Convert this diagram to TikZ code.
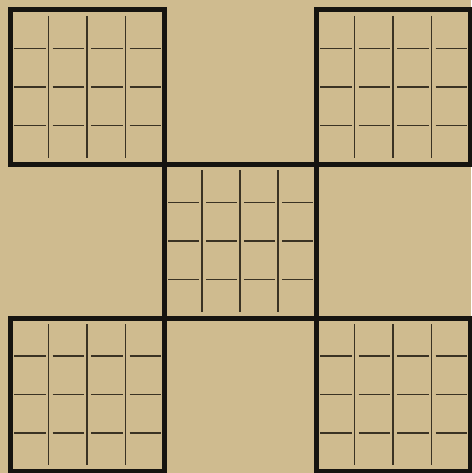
\documentclass[tikz,border=0pt]{standalone}
\usepackage{xcolor}
\usepackage{tikz}
\definecolor{paper}{RGB}{207,187,143}
\definecolor{ink}{RGB}{22,20,16}
\definecolor{pencil}{RGB}{58,50,35}

\begin{document}
\begin{tikzpicture}[x=1pt, y=-1pt,
    frame/.style={ink, line width=5pt, line cap=rect},
    gridv/.style={pencil, line width=1.4pt},
    gridh/.style={pencil, line width=1.8pt}]
  \fill[paper] (0,0) rectangle (471,473);
  \useasboundingbox (0,0) rectangle (471,473);
  % thick frame of the five squares
  \draw[frame] (10,10) -- (164,10) (316,10) -- (470,10);
  \draw[frame] (10,164) -- (470,164) (10,318) -- (470,318);
  \draw[frame] (10,471) -- (164,471) (316,471) -- (470,471);
  \draw[frame] (10,10) -- (10,164) (10,318) -- (10,471);
  \draw[frame] (164,10) -- (164,471) (316,10) -- (316,471);
  \draw[frame] (470,10) -- (470,164) (470,318) -- (470,471);
  % thin 4x4 rulings inside each square
  \foreach \ox/\oy/\w/\h in {10/10/154/154, 316/10/154/154, 164/164/152/154, 10/318/154/153, 316/318/154/153} {
    \foreach \k in {1,2,3} {
      \draw[gridv] (\ox+\k*\w/4, \oy+6) -- (\ox+\k*\w/4, \oy+\h-6);
      \foreach \j in {0,1,2,3}
        \draw[gridh] (\ox+\j*\w/4+4, \oy+\k*\h/4) -- (\ox+\j*\w/4+\w/4-3, \oy+\k*\h/4);
    }
  }
\end{tikzpicture}
\end{document}
